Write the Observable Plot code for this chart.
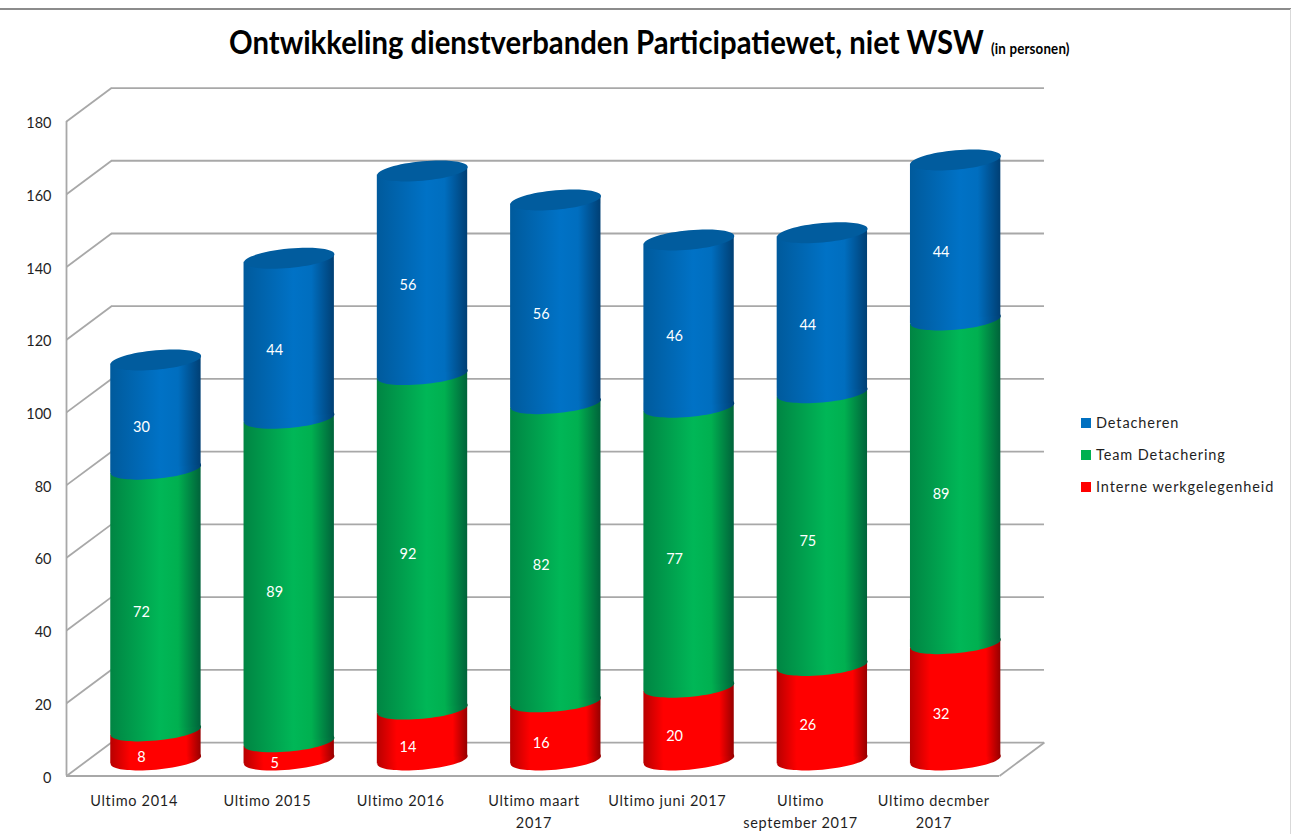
<!DOCTYPE html>
<html>
<head>
<meta charset="utf-8">
<script src="https://cdn.jsdelivr.net/npm/d3@7"></script>
<script src="https://cdn.jsdelivr.net/npm/@observablehq/plot@0.6"></script>
<style>
html,body{margin:0;padding:0;background:#fff;overflow:hidden}
#page{position:relative;width:1291px;height:834px;font-family:Lato,sans-serif;color:#1f1f1f}
#page svg{position:absolute;left:0;top:0}
#top{position:absolute;left:0;right:0;top:8px;height:2px;background:#8c8c8c}
#side{position:absolute;right:0;top:9px;bottom:0;width:1.5px;background:#d9d9d9}
#title{position:absolute;left:229px;top:20px;white-space:nowrap;font-weight:700;font-size:31.5px;line-height:44px;color:#000;transform:scaleX(.93);transform-origin:left center;z-index:2}
#title small{font-size:14.3px;font-weight:700;margin-left:4px;letter-spacing:.2px}
#legend{position:absolute;left:1081px;top:406.5px;width:205px;z-index:2}
#legend div{height:32px;line-height:32px;font-size:14.5px;letter-spacing:.9px;white-space:nowrap;display:flex;align-items:center}
#legend i{display:block;flex:none;width:10px;height:10px;margin-right:5px}
.xlabels text{letter-spacing:.7px}
</style>
</head>
<body>
<div id="page">
  <div id="top"></div><div id="side"></div>
  <div id="title"></div>
  <div id="legend"></div>
</div>
<script>
const titleText = "Ontwikkeling dienstverbanden Participatiewet, niet WSW";
const subtitleText = "(in personen)";
const categories = ["Ultimo 2014","Ultimo 2015","Ultimo 2016","Ultimo maart\n2017","Ultimo juni 2017","Ultimo\nseptember 2017","Ultimo decmber\n2017"];
const interne = [8,5,14,16,20,26,32];
const team = [72,89,92,82,77,75,89];
const detacheren = [30,44,56,56,46,44,44];
const seriesNames = ["Interne werkgelegenheid","Team Detachering","Detacheren"];
const seriesValues = [interne, team, detacheren];
const seriesColors = ["#ff0000","#00b050","#0070c0"];
const gridValues = d3.range(0,181,20);
const capColor = "#015c9e";
const gridColor = "#a8a8a8";

// depth of the 3D box and of the cylinder axis, in data units
const depthX = 0.3375, depthY = 9.2;
const midX = 0.171, midY = 4.4, halfW = 0.339;
const tilt = 0.09, ellipseA = 45.2, ellipseB = 9.7;

const gradientStops = [
  [[0,"#b80000"],[.22,"#ff0000"],[.84,"#ff0000"],[1,"#960000"]],
  [[0,"#008543"],[.55,"#00b757"],[.75,"#00b050"],[1,"#00633a"]],
  [[0,"#005a9c"],[.55,"#0072c6"],[.75,"#006ebf"],[1,"#003f74"]]
];

const segments = [];
categories.forEach((c,i) => {
  let base = 0;
  seriesValues.forEach((vals,s) => {
    segments.push({i, s, v: vals[i], y0: base, y1: base + vals[i]});
    base += vals[i];
  });
});
const tops = categories.map((c,i) => ({i, total: d3.sum(seriesValues, v => v[i])}));

const ellipse = {
  draw(ctx, size) {
    const a = Math.sqrt(size / Math.PI), b = a * ellipseB / ellipseA, q = 0.5523;
    const P = (u,v) => [a*u, b*v - tilt*a*u];
    ctx.moveTo(...P(1,0));
    ctx.bezierCurveTo(...P(1,q),...P(q,1),...P(0,1));
    ctx.bezierCurveTo(...P(-q,1),...P(-1,q),...P(-1,0));
    ctx.bezierCurveTo(...P(-1,-q),...P(-q,-1),...P(0,-1));
    ctx.bezierCurveTo(...P(q,-1),...P(1,-q),...P(1,0));
    ctx.closePath();
  }
};

// lean each rectangle by the tilt of the cylinder ellipses
function lean(index, scales, values, dimensions, context, next) {
  const g = next(index, scales, values, dimensions, context);
  d3.select(g).selectAll("rect").each(function() {
    const x = +this.getAttribute("x"), w = +this.getAttribute("width"), c = x + w/2;
    this.setAttribute("transform", `matrix(1 ${-tilt} 0 1 0 ${tilt*c})`);
  });
  return g;
}

const defs = () => {
  const d = d3.create("svg:defs");
  gradientStops.forEach((stops,s) => {
    const g = d.append("linearGradient").attr("id","cyl"+s).attr("x1",0).attr("x2",1).attr("y1",0).attr("y2",0);
    stops.forEach(([o,c]) => g.append("stop").attr("offset",o).attr("stop-color",c));
  });
  return d.node();
};

const cylinderLayers = seriesNames.flatMap((n,s) => {
  const rows = segments.filter(d => d.s === s);
  return [
    Plot.dot(rows, {x: d => d.i + midX, y: d => d.y0 + midY, r: ellipseA, symbol: ellipse, fill: `url(#cyl${s})`, stroke: "none"}),
    Plot.rect(rows, {x1: d => d.i + midX - halfW, x2: d => d.i + midX + halfW, y1: d => d.y0 + midY, y2: d => d.y1 + midY, fill: `url(#cyl${s})`, render: lean})
  ];
});

const chart = Plot.plot({
  width: 1291, height: 834,
  marginLeft: 66, marginRight: 292, marginTop: 121, marginBottom: 58.5,
  style: {fontFamily: "Lato, sans-serif", background: "transparent"},
  x: {domain: [-0.5, 6.5]},
  y: {domain: [0, 180]},
  marks: [
    defs,
    // back wall lines
    Plot.ruleY(gridValues, {x1: -0.5 + depthX, x2: 6.5 + depthX, y: d => d + depthY, stroke: gridColor, strokeWidth: 1.8}),
    // side wall lines
    Plot.link(gridValues, {x1: -0.5, y1: d => d, x2: -0.5 + depthX, y2: d => d + depthY, stroke: gridColor, strokeWidth: 1.8}),
    Plot.ruleX([-0.5], {y1: 0, y2: 180, stroke: gridColor, strokeWidth: 1.8}),
    // floor
    Plot.ruleY([0], {x1: -0.5, x2: 6.5, stroke: gridColor, strokeWidth: 1.8}),
    Plot.link([0], {x1: 6.5, y1: 0, x2: 6.5 + depthX, y2: depthY, stroke: gridColor, strokeWidth: 1.8}),
    ...cylinderLayers,
    Plot.dot(tops, {x: d => d.i + midX, y: d => d.total + midY, r: ellipseA, symbol: ellipse, fill: capColor, stroke: "none"}),
    Plot.text(segments, {x: d => d.i + 0.062, y: d => (d.y0 + d.y1)/2 + 1, text: d => String(d.v), fill: "#fff", fontSize: 14.5, fontFamily: "Lato, sans-serif"}),
    Plot.axisY(gridValues, {anchor: "left", tickSize: 0, tickPadding: 15, dy: 2, fontSize: 14.5, fill: "#1f1f1f", label: null}),
    Plot.axisX(d3.range(categories.length), {anchor: "bottom", tickSize: 0, tickPadding: 15, dx: 1, fontSize: 14.5, fill: "#1f1f1f", label: null, lineHeight: 1.5, className: "xlabels", tickFormat: i => categories[i]})
  ]
});
document.getElementById("page").appendChild(chart);

d3.select("#title").text(titleText).append("small").text(" " + subtitleText);
const order = [2,1,0];
d3.select("#legend").selectAll("div").data(order).join("div")
  .each(function(s){
    const row = d3.select(this);
    row.append("i").style("background", seriesColors[s]);
    row.append("span").text(seriesNames[s]);
  });
</script>
</body>
</html>
